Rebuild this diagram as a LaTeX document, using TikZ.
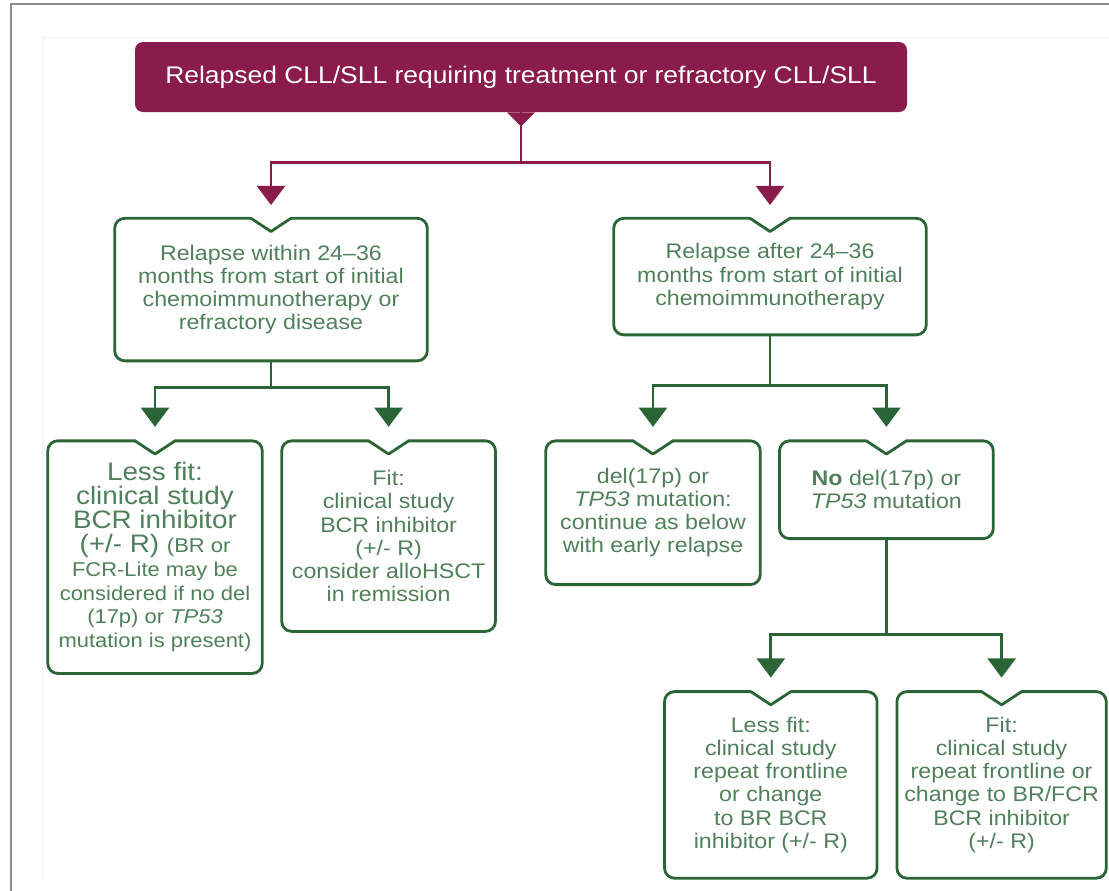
\documentclass[tikz,border=0pt]{standalone}
\usepackage{fontspec}
\setmainfont[FakeStretch=1.1]{Liberation Sans}
\usepackage{tikz}
\usetikzlibrary{arrows.meta,positioning,calc}
\definecolor{plum}{HTML}{8A1C4B}
\definecolor{pine}{HTML}{2B6436}
\definecolor{sage}{HTML}{4F7F5B}
\definecolor{frame}{HTML}{8C8C8C}
\newcommand{\sm}{\fontsize{14.2}{17}\selectfont}
% outline with the small notch on top
\newcommand{\notchbox}[1]{%
  \draw[boxline, rounded corners=0.25cm] ([xshift=0.5cm]#1.north)
    -- (#1.north east) -- (#1.south east) -- (#1.south west)
    -- (#1.north west) -- ([xshift=-0.5cm]#1.north);
  \draw[boxline] ([xshift=-0.5cm]#1.north) -- ([yshift=-0.33cm]#1.north)
    -- ([xshift=0.5cm]#1.north);}

\begin{document}
\begin{tikzpicture}[
    block/.style={inner sep=0pt, align=center, text=sage,
                  font=\fontsize{15}{16.5}\selectfont},
    boxline/.style={draw=pine, line width=2pt, line join=round, line cap=round},
    arrow/.style={-{Triangle[width=0.7cm,length=0.48cm]}, line width=2pt, color=pine},
    marrow/.style={arrow, color=plum},
]
\useasboundingbox (0,0) rectangle (27.725,-22.275);
\draw[frame, line width=1.5pt] (0.275,-22.4) -- (0.275,-0.1) -- (27.8,-0.1);
\draw[gray!6, line width=1pt] (1.075,-22) -- (1.075,-0.95) -- (27.8,-0.95);

\node[inner sep=0pt, fill=plum, rounded corners=0.2cm, minimum width=19.3cm,
      minimum height=1.75cm, text=white, font=\fontsize{17.1}{19}\selectfont]
      (relapsed) at (13.025,-1.925) {Relapsed CLL/SLL requiring treatment or refractory CLL/SLL};
\fill[plum] ([xshift=-0.35cm]relapsed.south) -- ([yshift=-0.35cm]relapsed.south)
    -- ([xshift=0.35cm]relapsed.south) -- cycle;

\node[block, minimum width=7.8cm, minimum height=3.55cm, below=2.65cm of relapsed,
      xshift=-6.25cm] (early) {Relapse within 24–36\\months from start of initial\\chemoimmunotherapy or\\refractory disease};
\node[block, minimum width=7.8cm, minimum height=2.9cm, below=2.65cm of relapsed,
      xshift=6.225cm] (late) {Relapse after 24–36\\months from start of initial\\chemoimmunotherapy};

\node[block, minimum width=5.35cm, minimum height=5.8cm, below=2cm of early,
      xshift=-2.9cm, font=\fontsize{18}{17}\selectfont] (lessfit)
      {Less fit:\\clinical study\\BCR inhibitor\\(+/- R) {\sm(BR or}\\\sm FCR-Lite may be\\\sm considered if no del\\\sm (17p) or \textit{TP53}\\\sm mutation is present)};
\node[block, minimum width=5.33cm, minimum height=4.75cm, below=2cm of early,
      xshift=2.94cm] (fit) {Fit:\\clinical study\\BCR inhibitor\\(+/- R)\\consider alloHSCT\\in remission};

\node[block, minimum width=5.35cm, minimum height=3.58cm, below=2.65cm of late,
      xshift=-2.925cm] (delp) {del(17p) or\\\textit{TP53} mutation:\\continue as below\\with early relapse};
\node[block, minimum width=5.33cm, minimum height=2.43cm, below=2.65cm of late,
      xshift=2.91cm] (nodel) {\textbf{No} del(17p) or\\\textit{TP53} mutation};

\node[block, minimum width=5.3cm, minimum height=4.65cm, below=3.825cm of nodel,
      xshift=-2.89cm] (lessfitb) {Less fit:\\clinical study\\repeat frontline\\or change\\to BR BCR\\inhibitor (+/- R)};
\node[block, minimum width=5.22cm, minimum height=4.65cm, below=3.825cm of nodel,
      xshift=2.88cm] (fitb) {Fit:\\clinical study\\repeat frontline or\\change to BR/FCR\\BCR inhibitor\\(+/- R)};

\foreach \b in {early,late,lessfit,fit,delp,nodel,lessfitb,fitb}
    \notchbox{\b};

\draw[marrow] (relapsed.south) -- ++(0,-1.25) -| ([yshift=0.33cm]early.north);
\draw[marrow] (relapsed.south) -- ++(0,-1.25) -| ([yshift=0.33cm]late.north);
\draw[arrow] (early.south) -- ++(0,-0.675) -| ([yshift=0.35cm]lessfit.north);
\draw[arrow] (early.south) -- ++(0,-0.675) -| ([yshift=0.35cm]fit.north);
\draw[arrow] (late.south) -- ++(0,-1.275) -| ([yshift=0.35cm]delp.north);
\draw[arrow] (late.south) -- ++(0,-1.275) -| ([yshift=0.35cm]nodel.north);
\draw[arrow] (nodel.south) -- ++(0,-2.4) -| ([yshift=0.35cm]lessfitb.north);
\draw[arrow] (nodel.south) -- ++(0,-2.4) -| ([yshift=0.35cm]fitb.north);
\end{tikzpicture}
\end{document}
